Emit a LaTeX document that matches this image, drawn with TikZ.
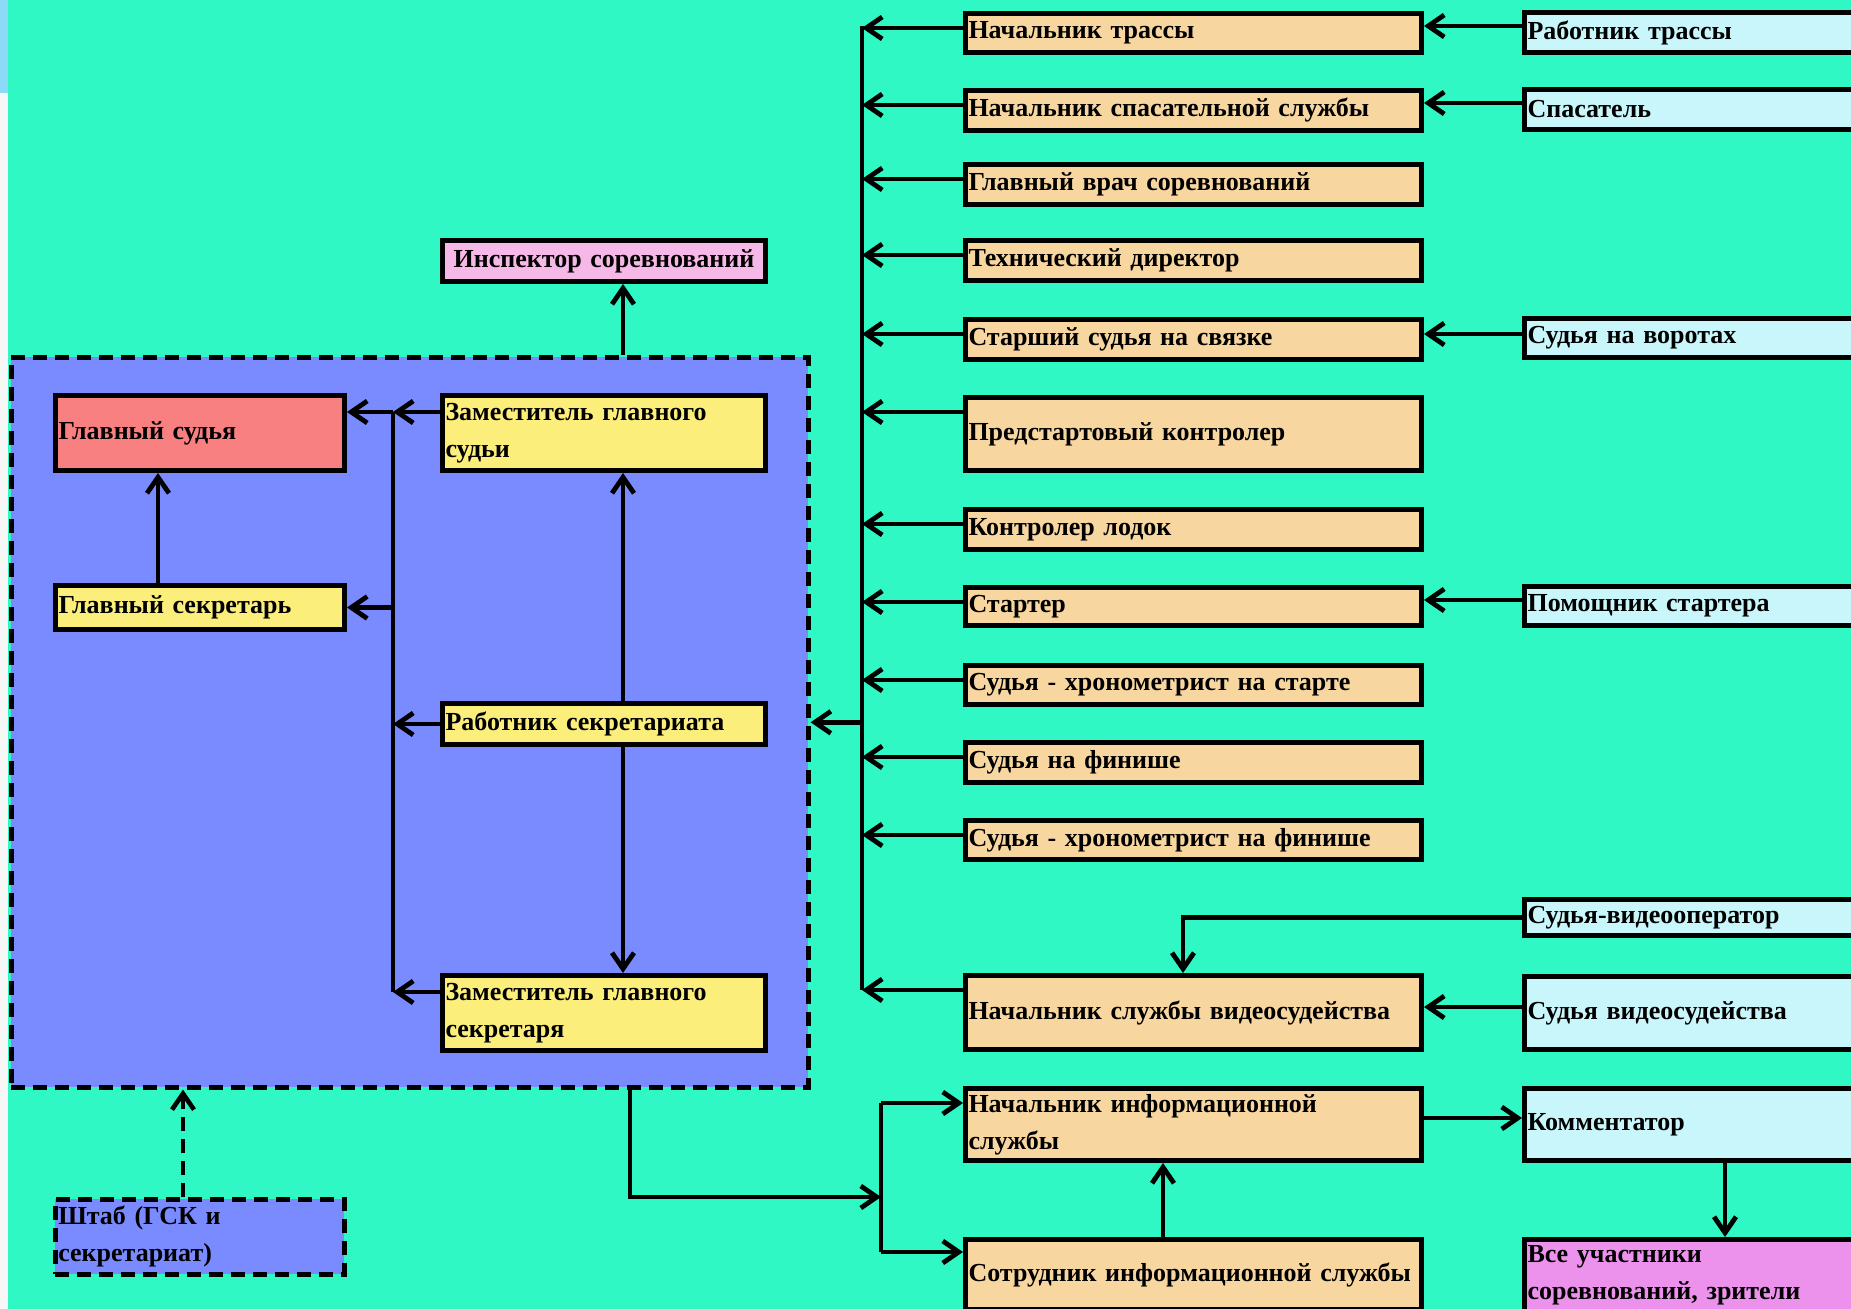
\documentclass[tikz,border=0pt]{standalone}
\usepackage{fontspec}
\setmainfont{Liberation Serif}
\usetikzlibrary{arrows.meta, positioning, calc}

\definecolor{sea}{RGB}{48,248,196}
\definecolor{groupblue}{RGB}{122,139,255}
\definecolor{chiefred}{RGB}{248,128,128}
\definecolor{deputyyellow}{RGB}{251,238,122}
\definecolor{judgeorange}{RGB}{247,214,160}
\definecolor{helpercyan}{RGB}{200,246,250}
\definecolor{inspectpink}{RGB}{246,184,230}
\definecolor{crowdviolet}{RGB}{236,146,236}

\tikzset{
  boxbase/.style={draw, line width=2.5pt, anchor=north west, inner xsep=1.5pt, inner ysep=0pt,
    align=left, font=\bfseries\fontsize{13}{18.5}\selectfont},
  obox/.style={boxbase, fill=judgeorange, text width=225pt},
  cbox/.style={boxbase, fill=helpercyan, text width=197pt},
  ybox/.style={boxbase, fill=deputyyellow, text width=158.5pt},
  lbox/.style={boxbase, text width=141.5pt},
  arr/.style={-{Straight Barb[length=8pt,width=11pt]}, line width=2.4pt},
  dashline/.style={line width=2.3pt, dash pattern=on 7pt off 4pt},
}

\begin{document}
\begin{tikzpicture}[x=0.5pt, y=-0.5pt]
  \useasboundingbox (0,0) rectangle (1851,1309);
  \clip (0,0) rectangle (1851,1309);
  \fill[sea] (0,0) rectangle (1851,1309);
  \fill[gray!6] (0,0) rectangle (8,1309);
  \fill[cyan!45] (0,0) rectangle (8,93);

  % judges' headquarters
  \node[draw, dashline, fill=groupblue, anchor=north west, inner sep=0pt,
    minimum width=398.5pt, minimum height=365pt] (grp) at (9,355) {};
  \node[lbox, fill=chiefred, minimum height=37.5pt] (chief) at (53,393) {Главный судья};
  \node[lbox, fill=deputyyellow, minimum height=22pt] (csec) at (53,583) {Главный секретарь};
  \node[ybox, minimum height=37.5pt] (djudge) at (440,393) {Заместитель главного\\судьи};
  \node[ybox, minimum height=20.5pt] (swork) at (440,701) {Работник секретариата};
  \node[ybox, minimum height=37.5pt] (dsec) at (440,973) {Заместитель главного\\секретаря};
  \node[ybox, align=center, fill=inspectpink, minimum height=20.5pt] (insp) at (440,238) {Инспектор соревнований};
  \node[lbox, dashline, fill=groupblue, minimum height=37.5pt] (hq) at (53,1197) {Штаб (ГСК и\\секретариат)};

  % officials
  \node[obox, minimum height=19.5pt] (b1) at (963,11) {Начальник трассы};
  \node[obox, minimum height=20pt] (b2) at (963,88) {Начальник спасательной службы};
  \node[obox, minimum height=20pt] (b3) at (963,162) {Главный врач соревнований};
  \node[obox, minimum height=20pt] (b4) at (963,238) {Технический директор};
  \node[obox, minimum height=20pt] (b5) at (963,317) {Старший судья на связке};
  \node[obox, minimum height=36.5pt] (b6) at (963,395) {Предстартовый контролер};
  \node[obox, minimum height=20pt] (b7) at (963,507) {Контролер лодок};
  \node[obox, minimum height=19pt] (b8) at (963,585) {Стартер};
  \node[obox, minimum height=19.5pt] (b9) at (963,663) {Судья - хронометрист на старте};
  \node[obox, minimum height=20pt] (b10) at (963,740) {Судья на финише};
  \node[obox, minimum height=19.5pt] (b11) at (963,818) {Судья - хронометрист на финише};
  \node[obox, minimum height=37pt] (b12) at (963,973) {Начальник службы видеосудейства};
  \node[obox, minimum height=36pt] (b13) at (963,1086) {Начальник информационной\\службы};
  \node[obox, minimum height=35pt] (b14) at (963,1237) {Сотрудник информационной службы};

  % helpers
  \node[cbox, minimum height=20pt] (c1) at (1522,10) {Работник трассы};
  \node[cbox, minimum height=20pt] (c2) at (1522,87) {Спасатель};
  \node[cbox, minimum height=19.5pt] (c5) at (1522,316) {Судья на воротах};
  \node[cbox, minimum height=19.5pt] (c8) at (1522,584) {Помощник стартера};
  \node[cbox, minimum height=18pt] (vop) at (1522,897) {Судья-видеооператор};
  \node[cbox, minimum height=36.5pt] (vjudge) at (1522,974) {Судья видеосудейства};
  \node[cbox, minimum height=36pt] (comm) at (1522,1086) {Комментатор};
  \node[cbox, fill=crowdviolet, minimum height=36pt] (crowd) at (1522,1237) {Все участники\\соревнований, зрители};

  % main spine
  \coordinate (spineN) at (862,26);
  \coordinate (spineS) at (862,990);
  \draw[line width=2.4pt] (spineN) -- (spineS);
  \foreach \i in {1,...,12}
    \draw[arr] ($(b\i.north west)+(0,17)$) coordinate (t) -- (t -| spineN);
  \draw[arr] (grp.east -| spineN) -- (grp.east);

  % inside the headquarters
  \coordinate (ibusN) at (393,412);
  \coordinate (ibusS) at (393,992);
  \draw[line width=2.4pt] (ibusN) -- (ibusS);
  \draw[arr] (djudge.west |- ibusN) -- (ibusN);
  \draw[arr] (ibusN) -- (chief.east |- ibusN);
  \draw[arr] (ibusN |- csec.east) -- (csec.east);
  \draw[arr] (swork.west) -- (swork.west -| ibusN);
  \draw[arr] (dsec.west |- ibusS) -- (ibusS);
  \draw[arr] ($(csec.north west)+(105,0)$) coordinate (t) -- (t |- chief.south);
  \draw[arr] ($(swork.north west)+(183,0)$) coordinate (t) -- (t |- djudge.south);
  \draw[arr] ($(swork.south west)+(183,0)$) coordinate (t) -- (t |- dsec.north);
  \draw[arr] ($(grp.north west)+(614,0)$) coordinate (t) -- (t |- insp.south);
  \draw[arr, dashline] ($(hq.north west)+(130,0)$) coordinate (t) -- (t |- grp.south);

  % information service
  \coordinate (fork) at (881,1197);
  \coordinate (forkN) at (881,1103);
  \coordinate (forkS) at (881,1252);
  \draw[arr] ($(grp.south west)+(621,0)$) |- (fork);
  \draw[line width=2.4pt] (forkN) -- (forkS);
  \draw[arr] (forkN) -- (forkN -| b13.west);
  \draw[arr] (forkS) -- (forkS -| b14.west);
  \draw[arr] ($(b14.north west)+(200,0)$) coordinate (t) -- (t |- b13.south);
  \draw[arr] ($(b13.north east)+(0,32)$) coordinate (t) -- (t -| comm.west);
  \draw[arr] ($(comm.south west)+(203,0)$) coordinate (t) -- (t |- crowd.north);

  % helpers to officials
  \draw[arr] ($(c1.north west)+(0,16)$) coordinate (t) -- (t -| b1.east);
  \draw[arr] ($(c2.north west)+(0,16)$) coordinate (t) -- (t -| b2.east);
  \draw[arr] ($(c5.north west)+(0,18)$) coordinate (t) -- (t -| b5.east);
  \draw[arr] ($(c8.north west)+(0,16)$) coordinate (t) -- (t -| b8.east);
  \draw[arr] ($(vjudge.north west)+(0,33)$) coordinate (t) -- (t -| b12.east);
  \draw[arr] (vop.west) -| ($(b12.north west)+(220,0)$);
\end{tikzpicture}
\end{document}
